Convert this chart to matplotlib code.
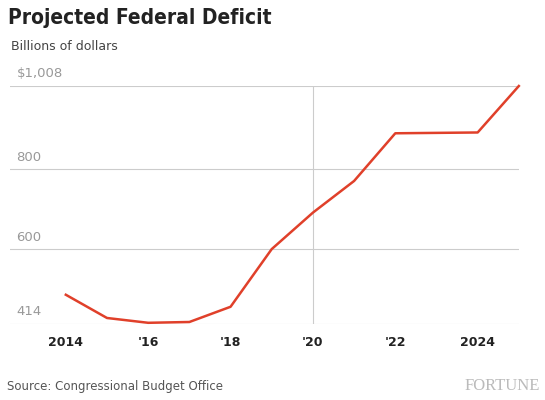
import matplotlib.pyplot as plt

years = [2014, 2015, 2016, 2017, 2018, 2019, 2020, 2021, 2022, 2023, 2024, 2025]
deficit = [487, 429, 417, 419, 457, 601, 692, 771, 890, 891, 892, 1008]
yticks = [414, 600, 800, 1008]
ylabels = ["414", "600", "800", "$1,008"]
xticks = [2014, 2016, 2018, 2020, 2022, 2024]
xlabels = ["2014", "'16", "'18", "'20", "'22", "2024"]

fig = plt.figure(figsize=(5.45, 4.0), dpi=100)
ax = fig.add_axes([0.018, 0.19, 0.934, 0.595])
ax.set_xlim(2012.64, 2025.0)
ax.set_ylim(414, 1008)

for v, lab in zip(yticks, ylabels):
    ax.axhline(v, color="#cccccc", lw=0.8, zorder=1)
    ax.text(2012.8, v + 14, lab, color="#999999", fontsize=9.5, va="bottom", ha="left")
ax.axvline(2020, color="#cccccc", lw=0.8, zorder=1)

ax.plot(years, deficit, color="#e0402a", lw=1.8, zorder=3, clip_on=False)

ax.set_xticks(xticks)
ax.set_xticklabels(xlabels, fontsize=9, fontweight="bold", color="#222222")
ax.tick_params(axis="x", length=0, pad=9)
ax.set_yticks([])
for s in ax.spines.values():
    s.set_visible(False)

fig.text(0.015, 0.94, "Projected Federal Deficit", fontsize=15, fontweight="bold",
         fontstretch="condensed", color="#222222")
fig.text(0.02, 0.875, "Billions of dollars", fontsize=9, color="#444444")
fig.text(0.012, 0.025, "Source: Congressional Budget Office", fontsize=8.5, color="#555555")
fig.text(0.99, 0.025, "FORTUNE", fontsize=12, color="#bbbbbb", ha="right",
         family="Liberation Serif")

fig.savefig("out.png", dpi=100)
